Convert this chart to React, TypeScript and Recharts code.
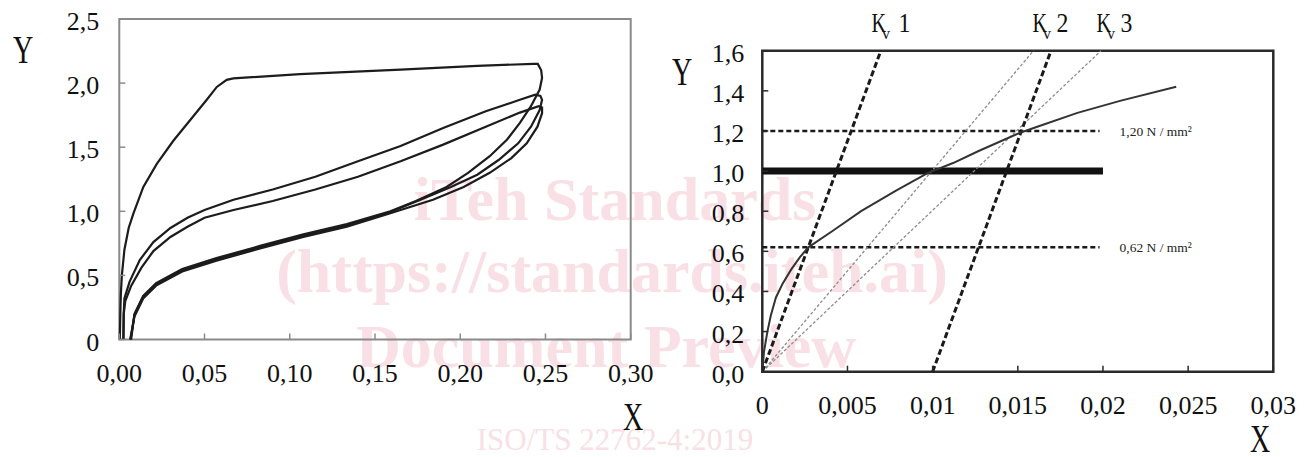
import React from "react";
import { LineChart, Line, XAxis, YAxis, ReferenceArea, ReferenceLine } from "recharts";

type Pt = [number, number];

const SERIF = '"Liberation Serif", "DejaVu Serif", serif';

// ---- left panel: load / unload cycles ----
const virginLoading: Pt[] = [
  [0.0003, 0], [0.0006, 0.2], [0.0009, 0.35], [0.0015, 0.5], [0.003, 0.7], [0.0055, 0.87],
  [0.0082, 0.98], [0.0141, 1.19], [0.022, 1.37], [0.0317, 1.55], [0.0415, 1.71], [0.0513, 1.87],
  [0.0572, 1.97], [0.063, 2.025], [0.0669, 2.037], [0.106, 2.07], [0.165, 2.105], [0.21, 2.135],
  [0.243, 2.15], [0.2455, 2.15], [0.2475, 2.1], [0.248, 2.04],
];
const firstUnloading: Pt[] = [
  [0.2466, 1.95], [0.2415, 1.82], [0.235, 1.69], [0.2275, 1.56], [0.2173, 1.43], [0.2046, 1.3],
  [0.192, 1.19], [0.174, 1.08], [0.159, 1.0], [0.1335, 0.9], [0.108, 0.82], [0.0826, 0.73],
  [0.057, 0.635], [0.0369, 0.55], [0.0216, 0.44], [0.014, 0.34], [0.0089, 0.2], [0.0069, 0],
];
const secondLoading: Pt[] = [
  [0.0024, 0], [0.0026, 0.2], [0.003, 0.32], [0.006, 0.45], [0.012, 0.62], [0.02, 0.76],
  [0.03, 0.87], [0.04, 0.95], [0.05, 1.01], [0.067, 1.09], [0.09, 1.17], [0.115, 1.27],
  [0.14, 1.39], [0.165, 1.51], [0.19, 1.65], [0.215, 1.78], [0.235, 1.87], [0.244, 1.91], [0.247, 1.9],
];
const secondUnloading: Pt[] = [
  [0.248, 1.87], [0.2466, 1.79], [0.2415, 1.66], [0.234, 1.53], [0.2225, 1.4], [0.21, 1.285],
  [0.1945, 1.19], [0.1767, 1.09], [0.159, 0.995], [0.1335, 0.89], [0.108, 0.81], [0.0826, 0.72],
  [0.057, 0.625], [0.0369, 0.54], [0.0216, 0.43], [0.014, 0.33], [0.0089, 0.19], [0.0066, 0],
];
const thirdLoading: Pt[] = [
  [0.0024, 0], [0.0026, 0.2], [0.0035, 0.3], [0.007, 0.42], [0.013, 0.56], [0.02, 0.69],
  [0.03, 0.8], [0.04, 0.88], [0.05, 0.95], [0.067, 1.01], [0.09, 1.08], [0.115, 1.17],
  [0.14, 1.27], [0.165, 1.39], [0.19, 1.52], [0.215, 1.66], [0.235, 1.77], [0.246, 1.82], [0.248, 1.81],
];
const thirdUnloading: Pt[] = [
  [0.248, 1.765], [0.2453, 1.66], [0.239, 1.53], [0.23, 1.415], [0.2173, 1.3], [0.202, 1.19],
  [0.184, 1.09], [0.159, 0.985], [0.1335, 0.88], [0.108, 0.8], [0.0826, 0.71], [0.057, 0.615],
  [0.0369, 0.53], [0.0216, 0.42], [0.014, 0.32], [0.0089, 0.18], [0.0064, 0],
];

const leftXTicks = [0, 0.05, 0.1, 0.15, 0.2, 0.25, 0.3];
const leftXLabels = ["0,00", "0,05", "0,10", "0,15", "0,20", "0,25", "0,30"];
const leftYTicks = [0, 0.5, 1, 1.5, 2, 2.5];
const leftYLabels = ["0", "0,5", "1,0", "1,5", "2,0", "2,5"];

// ---- right panel: stiffness construction ----
const stressCurve: Pt[] = [
  [0, 0], [0.0001, 0.1], [0.0003, 0.2], [0.0005, 0.28], [0.0008, 0.37], [0.0012, 0.44],
  [0.0017, 0.51], [0.0022, 0.57], [0.0027, 0.62], [0.0041, 0.7], [0.0058, 0.8], [0.0078, 0.9],
  [0.0097, 0.99], [0.0112, 1.04], [0.0127, 1.1], [0.0151, 1.19], [0.0161, 1.22], [0.0185, 1.29],
  [0.021, 1.35], [0.0243, 1.42],
];
const kv1Line: Pt[] = [[0, 0], [0.00696, 1.6]];
const kv2Line: Pt[] = [[0.01, 0], [0.01695, 1.6]];
const secantA: Pt[] = [[0, 0], [0.01592, 1.6]];
const secantB: Pt[] = [[0, 0], [0.01989, 1.6]];
const levelMid: Pt[] = [[0, 1.0], [0.02, 1.0]];
const levelHigh: Pt[] = [[0, 1.2], [0.0198, 1.2]];
const levelLow: Pt[] = [[0, 0.62], [0.0198, 0.62]];

const rightXTicks = [0, 0.005, 0.01, 0.015, 0.02, 0.025, 0.03];
const rightXLabels = ["0", "0,005", "0,01", "0,015", "0,02", "0,025", "0,03"];
const rightYTicks = [0, 0.2, 0.4, 0.6, 0.8, 1.0, 1.2, 1.4, 1.6];
const rightYLabels = ["0,0", "0,2", "0,4", "0,6", "0,8", "1,0", "1,2", "1,4", "1,6"];

const rows = (pts: Pt[]) => pts.map(([x, y]) => ({ x, y }));

const findLabel = (ticks: number[], labels: string[], v: number) =>
  labels[ticks.findIndex((t) => Math.abs(t - v) < 1e-9)] ?? "";

function bottomTick(ticks: number[], labels: string[], color: string) {
  return (props: any) => {
    const { x, y, payload } = props;
    return (
      <g>
        <line x1={x} y1={y} x2={x} y2={y - 6} stroke={color} strokeWidth={1.5} />
        <text x={x} y={y + 42} textAnchor="middle" fontFamily={SERIF} fontSize={26} fill="#111">
          {findLabel(ticks, labels, payload.value)}
        </text>
      </g>
    );
  };
}

function leftTick(ticks: number[], labels: string[], color: string, gap: number) {
  return (props: any) => {
    const { x, y, payload } = props;
    return (
      <g>
        <line x1={x} y1={y} x2={x + 6} y2={y} stroke={color} strokeWidth={1.5} />
        <text x={x - gap} y={y + 11} textAnchor="end" fontFamily={SERIF} fontSize={26} fill="#111">
          {findLabel(ticks, labels, payload.value)}
        </text>
      </g>
    );
  };
}

function Squeezed({ x, y, size, children }: { x: number; y: number; size: number; children: React.ReactNode }) {
  return (
    <text transform={`translate(${x} ${y}) scale(0.72 1)`} fontFamily={SERIF} fontSize={size} fill="#111">
      {children}
    </text>
  );
}

function KvLabel({ x, num, numDx }: { x: number; num: string; numDx: number }) {
  return (
    <g>
      <Squeezed x={x} y={32} size={28}>K</Squeezed>
      <text x={x + 10.5} y={39} fontFamily={SERIF} fontSize={16} fill="#111">v</text>
      <text transform={`translate(${x + numDx} 32) scale(0.85 1)`} fontFamily={SERIF} fontSize={28} fill="#111">
        {num}
      </text>
    </g>
  );
}

const LOOP = { stroke: "#1c1c1c", strokeWidth: 2.2, dot: false, activeDot: false, isAnimationActive: false, type: "linear" as const };

export default function App() {
  return (
    <div style={{ position: "absolute", left: 0, top: 0, width: 1316, height: 457, background: "#fff", overflow: "hidden" }}>
      <svg width={1316} height={457} style={{ position: "absolute", left: 0, top: 0 }}>
        <g fontFamily={SERIF} fill="#f9dfe6" textAnchor="middle">
          <text x={615} y={220} fontSize={62} fontWeight="bold">iTeh Standards</text>
          <text x={612} y={292} fontSize={62} fontWeight="bold">(https://standards.iteh.ai)</text>
          <text x={606} y={367} fontSize={62} fontWeight="bold">Document Preview</text>
          <text x={615} y={450} fontSize={31}>ISO/TS 22762-4:2019</text>
        </g>
        <Squeezed x={13} y={63} size={39}>Y</Squeezed>
        <Squeezed x={623} y={430} size={39}>X</Squeezed>
        <Squeezed x={672} y={85} size={39}>Y</Squeezed>
        <Squeezed x={1250} y={452} size={39}>X</Squeezed>
        <KvLabel x={871.5} num="1" numDx={27} />
        <KvLabel x={1032.5} num="2" numDx={24} />
        <KvLabel x={1096.5} num="3" numDx={24} />
      </svg>

      <div style={{ position: "absolute", left: 0, top: 0 }}>
        <LineChart width={680} height={457} margin={{ top: 19, left: 59.3, right: 49.3, bottom: 87.5 }}>
          <XAxis
            type="number"
            dataKey="x"
            domain={[0, 0.3]}
            ticks={leftXTicks}
            interval={0}
            height={30}
            axisLine={false}
            tickLine={false}
            tickSize={0}
            tickMargin={0}
            tick={bottomTick(leftXTicks, leftXLabels, "#8a8a8a")}
          />
          <YAxis
            type="number"
            domain={[0, 2.5]}
            ticks={leftYTicks}
            interval={0}
            width={60}
            axisLine={false}
            tickLine={false}
            tickSize={0}
            tickMargin={0}
            tick={leftTick(leftYTicks, leftYLabels, "#8a8a8a", 20)}
          />
          <ReferenceArea x1={0} x2={0.3} y1={0} y2={2.5} fill="none" fillOpacity={0} stroke="#8a8a8a" strokeWidth={2} />
          <Line data={rows([...virginLoading, ...firstUnloading])} dataKey="y" {...LOOP} />
          <Line data={rows([...secondLoading, ...secondUnloading])} dataKey="y" {...LOOP} />
          <Line data={rows([...thirdLoading, ...thirdUnloading])} dataKey="y" {...LOOP} />
        </LineChart>
      </div>

      <div style={{ position: "absolute", left: 660, top: 0 }}>
        <LineChart width={656} height={457} margin={{ top: 50.7, left: 42.3, right: 42.7, bottom: 55.3 }}>
          <XAxis
            type="number"
            dataKey="x"
            domain={[0, 0.03]}
            ticks={rightXTicks}
            interval={0}
            height={30}
            axisLine={false}
            tickLine={false}
            tickSize={0}
            tickMargin={0}
            tick={bottomTick(rightXTicks, rightXLabels, "#2a2a2a")}
          />
          <YAxis
            type="number"
            domain={[0, 1.6]}
            ticks={rightYTicks}
            interval={0}
            width={60}
            axisLine={false}
            tickLine={false}
            tickSize={0}
            tickMargin={0}
            tick={leftTick(rightYTicks, rightYLabels, "#2a2a2a", 18)}
          />
          <ReferenceArea x1={0} x2={0.03} y1={0} y2={1.6} fill="none" fillOpacity={0} stroke="#2a2a2a" strokeWidth={2.5} />
          <ReferenceLine
            segment={rows(levelHigh)}
            stroke="#1a1a1a"
            strokeWidth={2.5}
            strokeDasharray="5 3"
            label={{ value: "1,20 N / mm²", position: "right", offset: 20, fontSize: 13.5, fill: "#222", fontFamily: SERIF }}
          />
          <ReferenceLine
            segment={rows(levelLow)}
            stroke="#1a1a1a"
            strokeWidth={2.5}
            strokeDasharray="5 3"
            label={{ value: "0,62 N / mm²", position: "right", offset: 20, fontSize: 13.5, fill: "#222", fontFamily: SERIF }}
          />
          <Line data={rows(levelMid)} dataKey="y" stroke="#111" strokeWidth={7} dot={false} activeDot={false} isAnimationActive={false} type="linear" />
          <Line data={rows(secantA)} dataKey="y" stroke="#8c8c8c" strokeWidth={1.3} strokeDasharray="3 2" dot={false} activeDot={false} isAnimationActive={false} type="linear" />
          <Line data={rows(secantB)} dataKey="y" stroke="#8c8c8c" strokeWidth={1.3} strokeDasharray="3 2" dot={false} activeDot={false} isAnimationActive={false} type="linear" />
          <Line data={rows(kv1Line)} dataKey="y" stroke="#1a1a1a" strokeWidth={3} strokeDasharray="6 3" dot={false} activeDot={false} isAnimationActive={false} type="linear" />
          <Line data={rows(kv2Line)} dataKey="y" stroke="#1a1a1a" strokeWidth={3} strokeDasharray="6 3" dot={false} activeDot={false} isAnimationActive={false} type="linear" />
          <Line data={rows(stressCurve)} dataKey="y" stroke="#333" strokeWidth={2} dot={false} activeDot={false} isAnimationActive={false} type="linear" />
        </LineChart>
      </div>
    </div>
  );
}
